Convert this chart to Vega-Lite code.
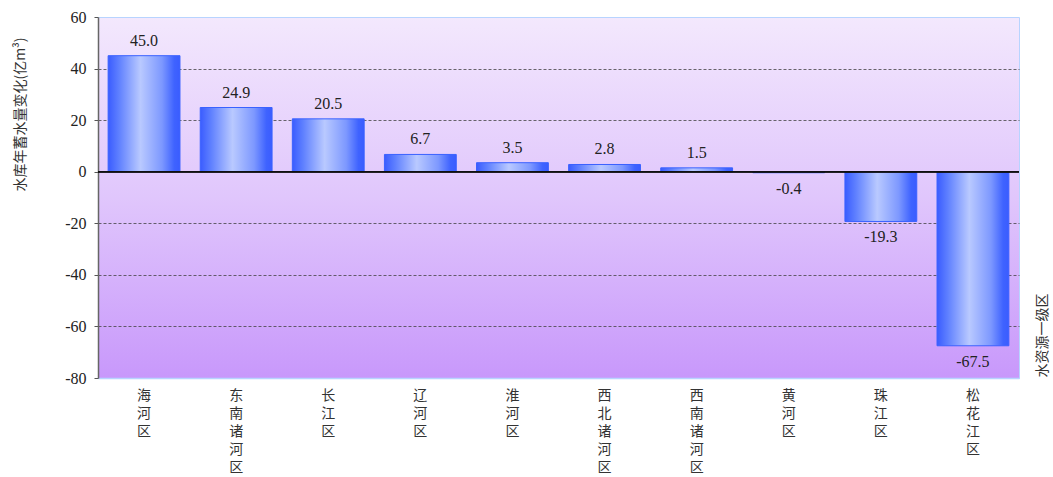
{
  "$schema": "https://vega.github.io/schema/vega-lite/v6.json",
  "width": 921,
  "height": 361,
  "autosize": {"type": "none"},
  "padding": {"left": 98, "top": 17, "right": 34, "bottom": 99},
  "background": "#ffffff",
  "config": {
    "view": {
      "fill": {
        "gradient": "linear", "x1": 0, "y1": 0, "x2": 0, "y2": 1,
        "stops": [
          {"offset": 0, "color": "#f3e8fd"},
          {"offset": 0.5, "color": "#e0c6fc"},
          {"offset": 1, "color": "#c898fb"}
        ]
      },
      "stroke": "#b8d4ff",
      "strokeWidth": 1
    },
    "axis": {"labelFont": "Liberation Serif", "titleFont": "Noto Sans CJK SC"}
  },
  "data": {
    "values": [
      {"region": "海河区", "v": 45.0},
      {"region": "东南诸河区", "v": 24.9},
      {"region": "长江区", "v": 20.5},
      {"region": "辽河区", "v": 6.7},
      {"region": "淮河区", "v": 3.5},
      {"region": "西北诸河区", "v": 2.8},
      {"region": "西南诸河区", "v": 1.5},
      {"region": "黄河区", "v": -0.4},
      {"region": "珠江区", "v": -19.3},
      {"region": "松花江区", "v": -67.5}
    ]
  },
  "encoding": {
    "x": {
      "field": "region", "type": "nominal", "sort": null,
      "scale": {"paddingInner": 0.22, "paddingOuter": 0.11},
      "axis": {
        "title": "水资源一级区",
        "titleFont": "Noto Sans CJK SC",
        "titleFontSize": 14,
        "titleFontWeight": "normal",
        "titleColor": "#333333",
        "titleAngle": 270,
        "titleX": 944,
        "titleY": -43,
        "titleAlign": "center",
        "titleBaseline": "middle",
        "labelAngle": 0,
        "labelFont": "Noto Sans CJK SC",
        "labelFontSize": 14,
        "labelColor": "#333333",
        "labelLineHeight": 18,
        "labelBaseline": "top",
        "labelPadding": 10,
        "labelExpr": "split(datum.label, '')",
        "ticks": false,
        "domainColor": "#b8d4ff",
        "domainWidth": 1.5
      }
    }
  },
  "layer": [
    {
      "mark": {
        "type": "bar",
        "stroke": "#3a62ff",
        "strokeWidth": 1,
        "color": {
          "gradient": "linear", "x1": 0, "y1": 0, "x2": 1, "y2": 0,
          "stops": [
            {"offset": 0, "color": "#3a5cff"},
            {"offset": 0.15, "color": "#5f80ff"},
            {"offset": 0.45, "color": "#b9c9ff"},
            {"offset": 0.75, "color": "#7d98ff"},
            {"offset": 0.92, "color": "#3f63ff"},
            {"offset": 1, "color": "#3a5cff"}
          ]
        }
      },
      "encoding": {
        "y": {
          "field": "v", "type": "quantitative",
          "scale": {"domain": [-80, 60], "nice": false, "zero": true},
          "axis": {
            "values": [-80, -60, -40, -20, 0, 20, 40, 60],
            "labelExpr": "replace(datum.label, '−', '-')",
            "title": "水库年蓄水量变化(亿m³)",
            "titleFontSize": 14,
            "titleFontWeight": "normal",
            "titleColor": "#333333",
            "titleAngle": 270,
            "titleX": -78,
            "titleY": 97,
            "titleAlign": "center",
            "titleBaseline": "middle",
            "labelFontSize": 16,
            "labelColor": "#222222",
            "labelPadding": 8,
            "tickSize": 4,
            "tickColor": "#555555",
            "domainColor": "#666666",
            "domainWidth": 1.5,
            "grid": true,
            "gridColor": "#444444",
            "gridDash": [3, 2],
            "gridWidth": 0.8,
            "gridOpacity": {"condition": {"test": "datum.value == 60 || datum.value == -80 || datum.value == 0", "value": 0}, "value": 1}
          }
        }
      }
    },
    {
      "mark": {"type": "rule", "color": "#111111", "strokeWidth": 1},
      "encoding": {"y": {"datum": 0, "type": "quantitative"}, "x": null}
    },
    {
      "mark": {
        "type": "text",
        "font": "Liberation Serif",
        "fontSize": 16,
        "color": "#222222",
        "text": {"expr": "replace(format(datum.v, '.1f'), '−', '-')"},
        "baseline": {"expr": "datum.v >= 0 ? 'bottom' : 'top'"},
        "dy": {"expr": "datum.v >= 0 ? -7 : 8"}
      },
      "encoding": {
        "y": {"field": "v", "type": "quantitative"}
      }
    }
  ]
}
